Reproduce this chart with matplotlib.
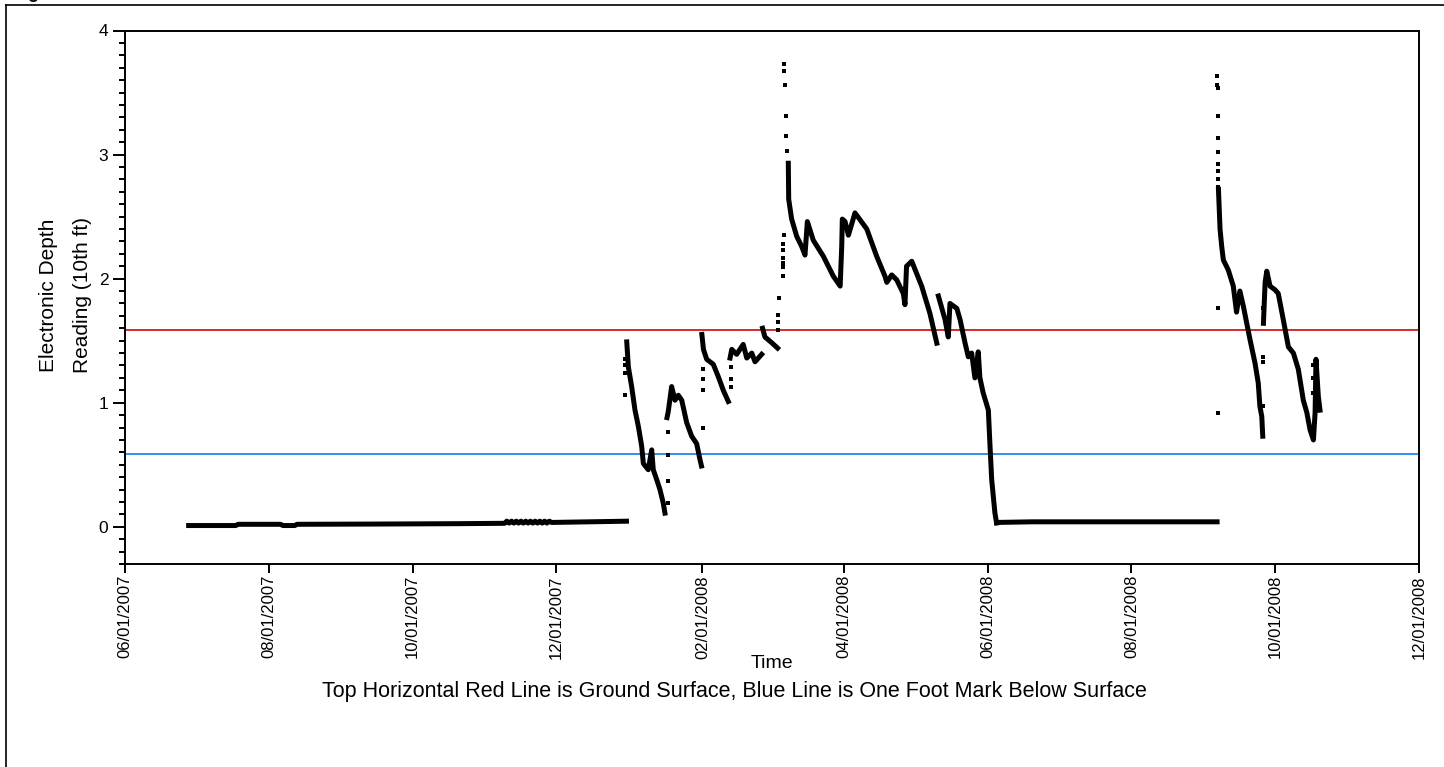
import matplotlib
matplotlib.use('Agg')
import matplotlib.pyplot as plt
import matplotlib.dates as mdates
from matplotlib.lines import Line2D
from matplotlib.ticker import MultipleLocator, FormatStrFormatter
import pandas as pd

plt.rcParams['font.family'] = ['Liberation Sans', 'DejaVu Sans']

# ground surface and one foot below it
ground_level = 1.59
foot_below = 0.585

# logger readings, one list pair per continuous run
flat07_t = ['2007-06-28', '2007-07-18', '2007-07-19', '2007-08-06', '2007-08-07', '2007-08-12',
            '2007-08-13', '2007-09-15', '2007-10-20', '2007-11-09',
            '2007-11-10', '2007-11-11', '2007-11-12', '2007-11-13', '2007-11-14', '2007-11-15',
            '2007-11-16', '2007-11-17', '2007-11-18', '2007-11-19', '2007-11-20', '2007-11-21',
            '2007-11-22', '2007-11-23', '2007-11-24', '2007-11-25', '2007-11-26', '2007-11-27',
            '2007-11-28', '2007-11-29', '2007-12-15', '2007-12-30 18:00']
flat07_v = [0.01, 0.01, 0.02, 0.02, 0.01, 0.01,
            0.02, 0.022, 0.025, 0.028,
            0.045, 0.03, 0.045, 0.03, 0.045, 0.03,
            0.045, 0.03, 0.045, 0.03, 0.045, 0.03,
            0.045, 0.03, 0.045, 0.03, 0.045, 0.03,
            0.045, 0.035, 0.04, 0.045]

jan_a_t = ['2007-12-30 21:00', '2007-12-31 13:00', '2008-01-01 23:00', '2008-01-03 09:00',
           '2008-01-04 19:00', '2008-01-06 05:00', '2008-01-06 22:00', '2008-01-09 00:00',
           '2008-01-10 11:00', '2008-01-11 03:00', '2008-01-12 14:00', '2008-01-13 23:00',
           '2008-01-15 09:00', '2008-01-16 02:00']
jan_a_v = [1.49, 1.29, 1.13, 0.94, 0.81, 0.65, 0.51, 0.46, 0.62, 0.46, 0.38, 0.30, 0.19, 0.11]

jan_b_t = ['2008-01-16 23:00', '2008-01-17 12:00', '2008-01-18 22:00', '2008-01-20 08:00',
           '2008-01-21 18:00', '2008-01-23 05:00', '2008-01-25 07:00', '2008-01-27 10:00',
           '2008-01-29 13:00', '2008-01-30 23:00', '2008-01-31 14:00']
jan_b_v = [0.88, 0.93, 1.13, 1.02, 1.06, 1.02, 0.84, 0.73, 0.67, 0.54, 0.49]

feb_a_t = ['2008-01-31 18:00', '2008-02-01 10:00', '2008-02-02 19:00', '2008-02-05 14:00',
           '2008-02-07 17:00', '2008-02-09 20:00', '2008-02-11 23:00']
feb_a_v = [1.55, 1.43, 1.35, 1.31, 1.21, 1.10, 1.01]

feb_b_t = ['2008-02-12 17:00', '2008-02-13 10:00', '2008-02-15 12:00', '2008-02-18 07:00',
           '2008-02-19 19:00', '2008-02-21 22:00', '2008-02-23 07:00', '2008-02-26 03:00']
feb_b_v = [1.36, 1.43, 1.39, 1.47, 1.36, 1.40, 1.33, 1.39]

mar_a_t = ['2008-02-26 12:00', '2008-02-27 12:00', '2008-03-01 14:00', '2008-03-03 21:00']
mar_a_v = [1.60, 1.53, 1.48, 1.44]

spring_t = ['2008-03-08 10:00', '2008-03-08 14:00', '2008-03-09 20:00', '2008-03-12 00:00',
            '2008-03-14 02:00', '2008-03-15 12:00', '2008-03-16 12:00', '2008-03-19 00:00',
            '2008-03-23 07:00', '2008-03-27 12:00', '2008-03-30 10:00', '2008-03-31 02:00',
            '2008-03-31 08:00', '2008-04-01 12:00', '2008-04-02 22:00', '2008-04-05 17:00',
            '2008-04-10 17:00', '2008-04-14 22:00', '2008-04-18 10:00', '2008-04-19 05:00',
            '2008-04-21 07:00', '2008-04-23 10:00', '2008-04-26 05:00', '2008-04-26 22:00',
            '2008-04-27 14:00', '2008-04-29 19:00', '2008-05-04 00:00', '2008-05-07 12:00',
            '2008-05-10 10:00']
spring_v = [2.93, 2.64, 2.48, 2.34, 2.26, 2.19, 2.46, 2.31,
            2.18, 2.02, 1.94, 2.26, 2.48, 2.46, 2.35, 2.53,
            2.40, 2.18, 2.02, 1.97, 2.03, 1.99, 1.88, 1.79,
            2.10, 2.14, 1.94, 1.72, 1.48]

may_t = ['2008-05-11 02:00', '2008-05-13 22:00', '2008-05-15 07:00', '2008-05-16 00:00',
         '2008-05-18 22:00', '2008-05-20 07:00', '2008-05-22 10:00', '2008-05-23 19:00',
         '2008-05-25 05:00', '2008-05-26 14:00', '2008-05-28 00:00', '2008-05-28 17:00',
         '2008-05-30 02:00', '2008-06-01 07:00', '2008-06-02 00:00', '2008-06-02 17:00',
         '2008-06-04 02:00', '2008-06-04 19:00']
may_v = [1.86, 1.67, 1.53, 1.80, 1.76, 1.67, 1.48, 1.37,
         1.40, 1.20, 1.41, 1.20, 1.08, 0.94, 0.65, 0.38,
         0.11, 0.03]

flat08_t = ['2008-06-04 19:00', '2008-06-20', '2008-07-10', '2008-08-01', '2008-08-20', '2008-09-06 08:00']
flat08_v = [0.035, 0.04, 0.04, 0.04, 0.04, 0.04]

sep_a_t = ['2008-09-06 22:00', '2008-09-07 14:00', '2008-09-08 07:00', '2008-09-09 00:00',
           '2008-09-11 02:00', '2008-09-13 05:00', '2008-09-14 14:00', '2008-09-16 00:00',
           '2008-09-17 11:00', '2008-09-18 22:00', '2008-09-20 07:00', '2008-09-22 10:00',
           '2008-09-23 19:00', '2008-09-24 12:00', '2008-09-25 07:00', '2008-09-25 17:00']
sep_a_v = [2.72, 2.40, 2.26, 2.15, 2.07, 1.94, 1.73, 1.90,
           1.78, 1.64, 1.51, 1.32, 1.16, 0.97, 0.89, 0.73]

oct_t = ['2008-09-26 00:00', '2008-09-26 17:00', '2008-09-27 10:00', '2008-09-28 19:00',
         '2008-09-30 22:00', '2008-10-02 07:00', '2008-10-04 10:00', '2008-10-06 14:00',
         '2008-10-08 17:00', '2008-10-10 19:00', '2008-10-12 22:00', '2008-10-14 10:00',
         '2008-10-15 19:00', '2008-10-17 05:00', '2008-10-17 22:00', '2008-10-18 07:00',
         '2008-10-19 07:00', '2008-10-20 00:00']
oct_v = [1.64, 1.97, 2.06, 1.94, 1.91, 1.88, 1.67, 1.45,
         1.40, 1.27, 1.02, 0.92, 0.78, 0.70, 0.92, 1.35,
         1.05, 0.94]

# stray single readings
dots_t = ['2007-12-30 02:00', '2007-12-30 04:00', '2007-12-30 06:00', '2007-12-30 08:00',
          '2008-01-17 08:00', '2008-01-17 09:00', '2008-01-17 10:00', '2008-01-17 11:00',
          '2008-02-01 03:00', '2008-02-01 05:00', '2008-02-01 06:00', '2008-02-01 07:00',
          '2008-02-13 00:00', '2008-02-13 02:00', '2008-02-13 04:00',
          '2008-03-04 04:00', '2008-03-04 05:00', '2008-03-04 06:00', '2008-03-04 07:00',
          '2008-03-06 02:00', '2008-03-06 04:00', '2008-03-06 06:00', '2008-03-06 07:00',
          '2008-03-06 08:00', '2008-03-06 09:00', '2008-03-06 10:00',
          '2008-03-06 17:00', '2008-03-06 18:00', '2008-03-06 20:00',
          '2008-03-07 12:00', '2008-03-07 14:00', '2008-03-07 16:00',
          '2008-09-06 11:00', '2008-09-06 12:00', '2008-09-06 13:00', '2008-09-06 14:00',
          '2008-09-06 15:00', '2008-09-06 16:00', '2008-09-06 17:00', '2008-09-06 18:00',
          '2008-09-06 19:00', '2008-09-06 20:00', '2008-09-06 21:00', '2008-09-06 21:30',
          '2008-09-25 20:00', '2008-09-25 21:00', '2008-09-25 22:00', '2008-09-25 23:00',
          '2008-10-17 03:00', '2008-10-17 04:00', '2008-10-17 05:00']
dots_v = [1.35, 1.30, 1.24, 1.06,
          0.76, 0.58, 0.37, 0.19,
          0.80, 1.27, 1.19, 1.10,
          1.29, 1.19, 1.13,
          1.59, 1.65, 1.71, 1.84,
          2.02, 2.09, 2.13, 2.17,
          2.23, 2.28, 2.35,
          3.73, 3.67, 3.56,
          3.31, 3.15, 3.03,
          3.63, 3.56, 3.54, 3.31,
          3.13, 3.02, 2.92, 2.87,
          2.80, 2.74, 1.76, 0.92,
          1.76, 1.37, 1.33, 0.97,
          1.30, 1.20, 1.08]

runs = [(flat07_t, flat07_v), (jan_a_t, jan_a_v), (jan_b_t, jan_b_v), (feb_a_t, feb_a_v),
        (feb_b_t, feb_b_v), (mar_a_t, mar_a_v), (spring_t, spring_v), (may_t, may_v),
        (flat08_t, flat08_v), (sep_a_t, sep_a_v), (oct_t, oct_v)]


def to_dates(t):
    return pd.to_datetime(t, format='ISO8601')


W, H = 1444, 767
fig = plt.figure(figsize=(W / 100, H / 100), dpi=100)
ax = fig.add_axes([125 / W, 1 - 564 / H, (1419 - 125) / W, (564 - 30.5) / H])

ax.axhline(ground_level, color='#d42a2a', lw=1.4, zorder=1)
ax.axhline(foot_below, color='#2f8ff2', lw=1.4, zorder=1)

for t, v in runs:
    ax.plot(to_dates(t), v, color='black', lw=3.6, solid_capstyle='projecting', zorder=3)
ax.plot(to_dates(dots_t), dots_v, 's', color='black', ms=2.6, mew=0, zorder=3)

ax.set_xlim(pd.Timestamp('2007-06-01'), pd.Timestamp('2008-12-01'))
ax.set_ylim(-0.3, 4.0)

ax.xaxis.set_major_locator(mdates.MonthLocator(bymonth=[2, 4, 6, 8, 10, 12]))
ax.xaxis.set_major_formatter(mdates.DateFormatter('%m/%d/%Y'))
ax.yaxis.set_major_locator(MultipleLocator(1))
ax.yaxis.set_minor_locator(MultipleLocator(0.1))
ax.yaxis.set_major_formatter(FormatStrFormatter('%d'))

ax.tick_params(axis='y', which='major', length=8.5, width=1.4, labelsize=12.5, pad=3.5)
ax.tick_params(axis='y', which='minor', length=4.3, width=1.4)
ax.tick_params(axis='x', which='major', length=6.5, width=1.4, labelsize=12, pad=1.5,
               labelrotation=90)
for s in ax.spines.values():
    s.set_linewidth(1.4)

# two-line axis title on the left, one text per line
fig.text(49 / W, 1 - 295 / H, 'Electronic Depth', rotation=90, ha='center', va='center', fontsize=15)
fig.text(82 / W, 1 - 295 / H, 'Reading (10th ft)', rotation=90, ha='center', va='center', fontsize=15)
fig.text((125 + 1419) / 2 / W, 1 - 663 / H, 'Time', ha='center', va='center', fontsize=14)
fig.text(734 / W, 1 - 692 / H,
         'Top Horizontal Red Line is Ground Surface, Blue Line is One Foot Mark Below Surface',
         ha='center', va='center', fontsize=15.5)

# frame around the whole figure and the clipped heading above it
fig.add_artist(Line2D([6 / W, 6 / W], [0, 1 - 5 / H], transform=fig.transFigure, color='black', lw=1.2))
fig.add_artist(Line2D([6 / W, 1], [1 - 5 / H, 1 - 5 / H], transform=fig.transFigure, color='black', lw=1.2))
fig.text(27 / W, 1 + 1.5 / H, 'g', ha='left', va='baseline', fontsize=13, fontweight='bold')

fig.savefig('out.png', dpi=100)
